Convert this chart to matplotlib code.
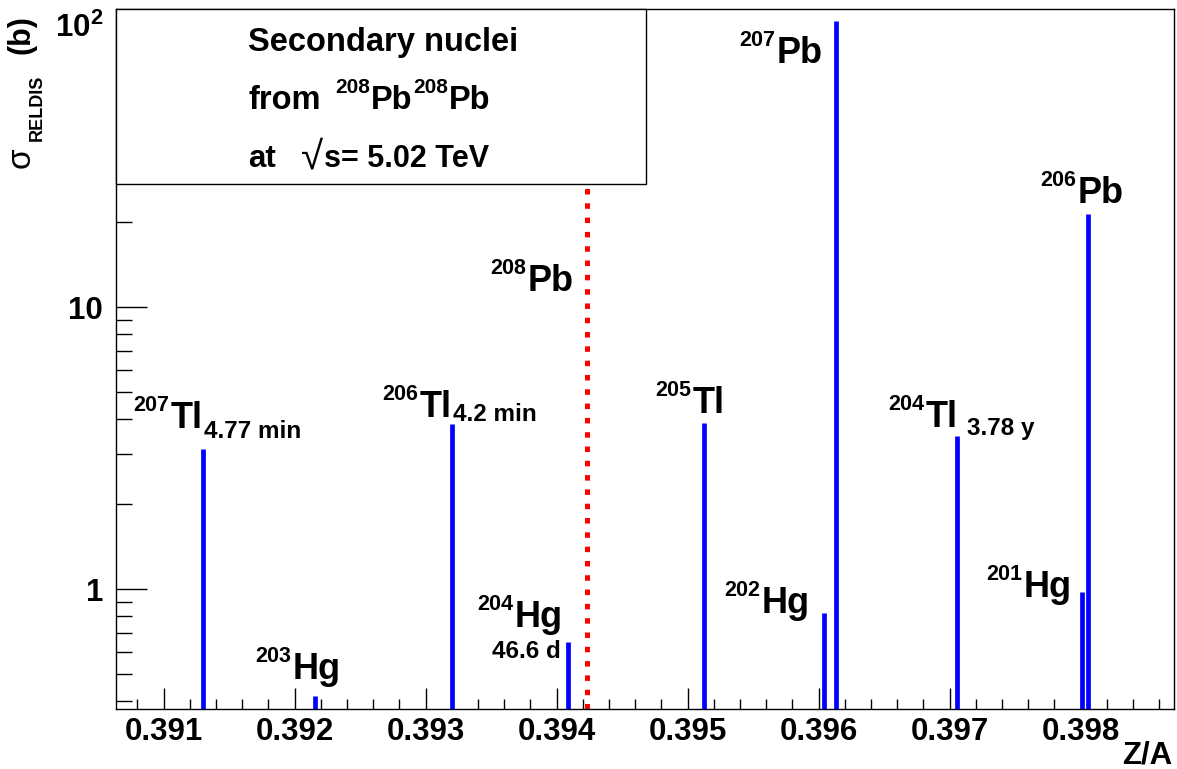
import matplotlib
matplotlib.use('Agg')
import matplotlib.pyplot as plt
from matplotlib.transforms import ScaledTranslation, Affine2D
from matplotlib.patches import Rectangle
from matplotlib.ticker import FixedLocator, MultipleLocator, LogLocator, NullFormatter, FixedFormatter

plt.rcParams['font.family'] = ['Liberation Sans', 'DejaVu Sans']
plt.rcParams['font.weight'] = 'bold'
plt.rcParams['mathtext.fontset'] = 'custom'
plt.rcParams['mathtext.rm'] = 'Liberation Sans:bold'
plt.rcParams['mathtext.it'] = 'Liberation Sans:bold'
plt.rcParams['mathtext.bf'] = 'Liberation Sans:bold'
plt.rcParams['mathtext.default'] = 'rm'
plt.rcParams['lines.scale_dashes'] = False

# ---------------- data ----------------
nuclides = ['207Tl', '203Hg', '206Tl', '204Hg', '205Tl', '202Hg', '207Pb', '204Tl', '201Hg', '206Pb']
z_over_a = [0.391304, 0.392157, 0.393204, 0.394089, 0.395122, 0.396040, 0.396135, 0.397059, 0.398010, 0.398058]
sigma_b = [3.14, 0.418, 3.85, 0.649, 3.89, 0.822, 103.0, 3.49, 0.976, 21.4]
beam_z_over_a = 0.394231   # 208Pb

xtick_values = [0.391, 0.392, 0.393, 0.394, 0.395, 0.396, 0.397, 0.398]
xtick_labels = ['0.391', '0.392', '0.393', '0.394', '0.395', '0.396', '0.397', '0.398']
ytick_values = [1, 10, 100]
ytick_labels = ['1', '10', r'$10^{2}$']

# isotope labels: mass number, symbol, half-life subscript, anchor (data coords: left of mass number, main baseline)
label_mass = ['207', '203', '206', '204', '205', '202', '207', '208', '204', '201', '206']
label_sym = ['Tl', 'Hg', 'Tl', 'Hg', 'Tl', 'Hg', 'Pb', 'Pb', 'Tl', 'Hg', 'Pb']
label_sub = ['4.77 min', None, '4.2 min', None, None, None, None, None, '3.78 y', None, None]
label_x = [0.390769, 0.391703, 0.392669, 0.393395, 0.394751, 0.395281, 0.395395, 0.393497, 0.396534, 0.397281, 0.397695]
label_y = [3.715, 0.4797, 4.083, 0.735, 4.21, 0.824, 73.1, 11.42, 3.763, 0.934, 23.32]
sub_drop = [10, 0, 4.5, 0, 0, 0, 0, 0, 8, 0, 0]
sub_gap = [1.0, 0, 1.0, 0, 0, 0, 0, 0, 9.0, 0, 0]

# ---------------- figure ----------------
DPI = 100
W_IN, H_IN = 11.77, 7.69
fig = plt.figure(figsize=(W_IN, H_IN), dpi=DPI)
fig.patch.set_facecolor('white')
renderer = fig.canvas.get_renderer()

ax = fig.add_axes([115.7 / 1177, 1 - 709 / 769, (1174 - 115.7) / 1177, (709 - 9) / 769])
ax.set_xlim(0.390634, 0.398713)
ax.set_yscale('log')
ax.set_ylim(0.3757, 113.9)

for sp in ax.spines.values():
    sp.set_linewidth(1.0)

ax.vlines(z_over_a, 1e-3, sigma_b, colors='#0000ff', linewidth=3.4, capstyle='butt', zorder=3)
ax.axvline(beam_z_over_a, color='#ff0000', linewidth=3.6, linestyle=(0, (3.96, 6.34)), zorder=2)

ax.xaxis.set_major_locator(FixedLocator(xtick_values))
ax.xaxis.set_major_formatter(FixedFormatter(xtick_labels))
ax.xaxis.set_minor_locator(MultipleLocator(0.0002))
ax.yaxis.set_major_locator(FixedLocator(ytick_values))
ax.yaxis.set_major_formatter(FixedFormatter(ytick_labels))
ax.yaxis.set_minor_locator(LogLocator(base=10, subs=[2, 3, 4, 5, 6, 7, 8, 9]))
ax.yaxis.set_minor_formatter(NullFormatter())

ax.tick_params(axis='both', which='both', direction='in', top=False, right=False, width=1.0)
ax.tick_params(axis='x', which='major', length=15, pad=6, labelsize=22.5)
ax.tick_params(axis='x', which='minor', length=7.5)
ax.tick_params(axis='y', which='major', length=22, pad=9, labelsize=22.5)
ax.tick_params(axis='y', which='minor', length=11.5)
for lab in ax.get_xticklabels() + ax.get_yticklabels():
    lab.set_fontweight('bold')

# pixel transform (origin top-left)
pix = Affine2D().scale(1.0 / DPI, -1.0 / DPI).translate(0, H_IN) + fig.dpi_scale_trans


def text_width(s, size, weight, family):
    t = fig.text(0, 0, s, fontsize=size, fontweight=weight, family=family)
    w = t.get_window_extent(renderer).width
    t.remove()
    return w


def compose(x, y, transform, pieces, rotation=0, zorder=6, align='left'):
    widths = [text_width(p[0], p[1], p[4], p[5]) for p in pieces]
    total = sum(widths) + sum(p[3] for p in pieces)
    along = 0.0 if align == 'left' else -total
    for p, w in zip(pieces, widths):
        s, size, rise, gap, weight, family = p
        along += gap
        if rotation == 0:
            dx, dy = along, rise
        else:
            dx, dy = -rise, along
        tr = transform + ScaledTranslation(dx / DPI, dy / DPI, fig.dpi_scale_trans)
        fig.text(x, y, s, transform=tr, fontsize=size, fontweight=weight, family=family,
                 rotation=rotation, rotation_mode='anchor', ha='left', va='baseline', zorder=zorder)
        along += w


FAM = ['Liberation Sans', 'DejaVu Sans']
MAIN, SUP, SUB = 26, 15.5, 17.5

for i in range(len(label_mass)):
    pieces = [(label_mass[i], SUP, 17, 0, 'bold', FAM),
              (label_sym[i], MAIN, 0, 1.5, 'bold', FAM)]
    if label_sub[i]:
        pieces.append((label_sub[i], SUB, -sub_drop[i], sub_gap[i], 'bold', FAM))
    compose(label_x[i], label_y[i], ax.transData, pieces)

# half-life of 204Hg on its own line (right aligned)
compose(0.394031, 0.5706, ax.transData, [('46.6 d', 17.5, 0, 0, 'bold', FAM)], align='right')

# info box
fig.patches.append(Rectangle((116 / 1177, 1 - 184 / 769), (646 - 116) / 1177, (184 - 9) / 769,
                             transform=fig.transFigure, facecolor='white', edgecolor='black',
                             linewidth=1.0, zorder=4))
BOX = 23.5
compose(248.3, 50.7, pix, [('Secondary nuclei', BOX, 0, 0, 'bold', FAM)], zorder=7)
compose(248.3, 109, pix, [('from', BOX, 0, 0, 'bold', FAM),
                          ('208', 15, 15.7, 14, 'bold', FAM),
                          ('Pb', BOX, 0, 1, 'bold', FAM),
                          ('208', 15, 15.7, 1, 'bold', FAM),
                          ('Pb', BOX, 0, 1, 'bold', FAM)], zorder=7)
compose(248.3, 166.7, pix, [('at', 22.5, 0, 0, 'bold', FAM),
                            ('\u221a', 29, -2, 25, 'normal', FAM),
                            ('s= 5.02 TeV', 22, 0, 1, 'bold', FAM)], zorder=7)

# axis titles
compose(30, 168, pix, [('\u03c3', 24, 0, 0, 'normal', FAM),
                       ('RELDIS', 13, -12, 6, 'bold', FAM),
                       ('(b)', 22, 0, 21, 'bold', FAM)], rotation=90)
compose(1172, 763, pix, [('Z/A', 22.5, 0, 0, 'bold', FAM)], align='right')

fig.savefig('out.png', dpi=DPI, facecolor='white')
